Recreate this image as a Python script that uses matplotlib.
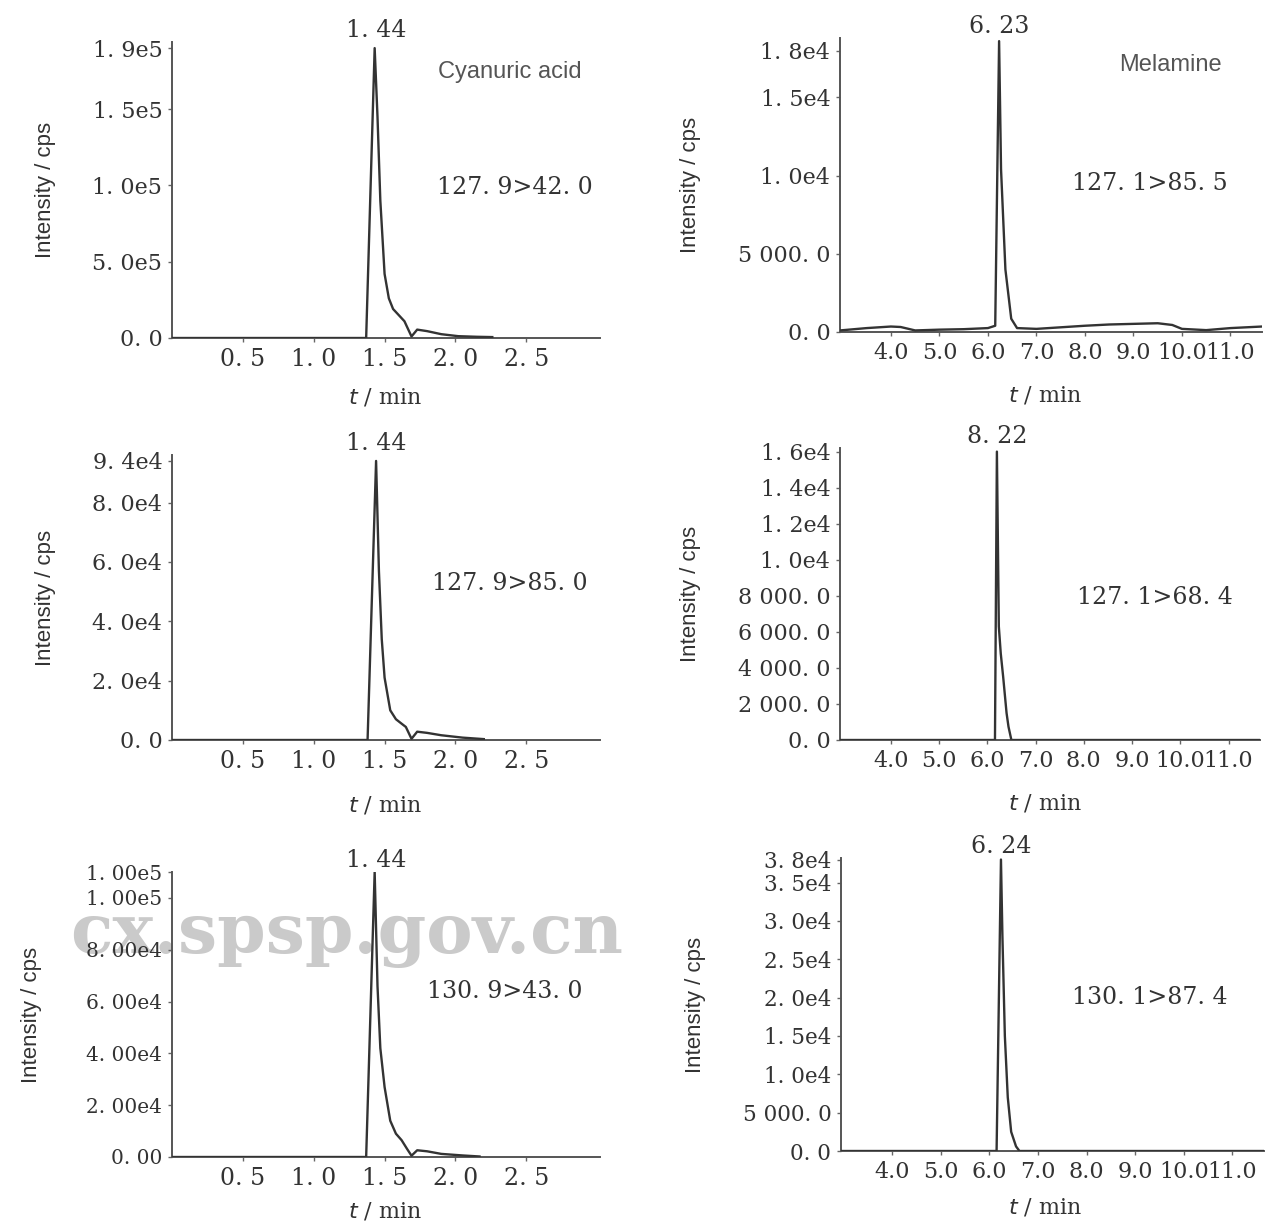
import matplotlib
matplotlib.use("Agg")
import matplotlib.pyplot as plt
import matplotlib.transforms as mtransforms

# ---- data ----
# left column: cyanuric acid, right column: melamine
ca1_t = [0.0, 1.37, 1.43, 1.45, 1.47, 1.50, 1.53, 1.56, 1.60, 1.64, 1.67, 1.69, 1.73, 1.80, 1.90, 2.02, 2.15, 2.26]
ca1_i = [0, 0, 1.9e5, 1.45e5, 9.0e4, 4.2e4, 2.6e4, 1.9e4, 1.5e4, 1.1e4, 5.0e3, 1.0e3, 5.5e3, 4.5e3, 2.5e3, 1.2e3, 800, 600]

ca2_t = [0.0, 1.38, 1.44, 1.46, 1.48, 1.50, 1.54, 1.58, 1.62, 1.65, 1.69, 1.73, 1.80, 1.90, 2.05, 2.20]
ca2_i = [0, 0, 9.4e4, 5.7e4, 3.4e4, 2.1e4, 1.0e4, 7.0e3, 5.5e3, 4.4e3, 400, 2.8e3, 2.4e3, 1.6e3, 800, 300]

ca3_t = [0.0, 1.37, 1.43, 1.45, 1.47, 1.50, 1.54, 1.58, 1.62, 1.66, 1.69, 1.73, 1.80, 1.90, 2.05, 2.17]
ca3_i = [0, 0, 1.1e5, 6.6e4, 4.2e4, 2.7e4, 1.4e4, 9.0e3, 6.5e3, 3.0e3, 500, 2.6e3, 2.2e3, 1.2e3, 600, 200]

mel1_t = [2.95, 3.5, 4.0, 4.2, 4.5, 5.0, 5.5, 6.0, 6.15, 6.23, 6.27, 6.36, 6.48, 6.60, 7.0, 7.5, 8.0, 8.5, 9.0, 9.5, 9.8, 10.0, 10.5, 11.0, 11.65]
mel1_i = [100, 250, 350, 320, 100, 150, 180, 250, 400, 1.86e4, 1.04e4, 4.0e3, 850, 250, 200, 300, 400, 480, 520, 560, 450, 200, 120, 250, 350]

mel2_t = [2.95, 6.16, 6.20, 6.24, 6.28, 6.33, 6.40, 6.44, 6.50, 11.65]
mel2_i = [0, 0, 1.6e4, 6.3e3, 4.8e3, 3.5e3, 1.5e3, 740, 0, 0]

mel3_t = [2.95, 6.15, 6.24, 6.27, 6.32, 6.38, 6.45, 6.55, 6.62, 11.65]
mel3_i = [0, 0, 3.8e4, 2.8e4, 1.5e4, 7.0e3, 2.5e3, 600, 0, 0]

left_ticks = [0.5, 1.0, 1.5, 2.0, 2.5]
left_ticklabels = ["0. 5", "1. 0", "1. 5", "2. 0", "2. 5"]
right_ticks = [4.0, 5.0, 6.0, 7.0, 8.0, 9.0, 10.0, 11.0]
right_ticklabels = ["4.0", "5.0", "6.0", "7.0", "8.0", "9.0", "10.0", "11.0"]

y1_ticks = [0, 5e4, 1e5, 1.5e5, 1.9e5]
y1_labels = ["0. 0", "5. 0e5", "1. 0e5", "1. 5e5", "1. 9e5"]
y2_ticks = [0, 2e4, 4e4, 6e4, 8e4, 9.4e4]
y2_labels = ["0. 0", "2. 0e4", "4. 0e4", "6. 0e4", "8. 0e4", "9. 4e4"]
y3_ticks = [0, 2e4, 4e4, 6e4, 8e4, 1e5, 1.1e5]
y3_labels = ["0. 00", "2. 00e4", "4. 00e4", "6. 00e4", "8. 00e4", "1. 00e5", "1. 00e5"]
y4_ticks = [0, 5000, 1e4, 1.5e4, 1.8e4]
y4_labels = ["0. 0", "5 000. 0", "1. 0e4", "1. 5e4", "1. 8e4"]
y5_ticks = [0, 2000, 4000, 6000, 8000, 1e4, 1.2e4, 1.4e4, 1.6e4]
y5_labels = ["0. 0", "2 000. 0", "4 000. 0", "6 000. 0", "8 000. 0", "1. 0e4", "1. 2e4", "1. 4e4", "1. 6e4"]
y6_ticks = [0, 5000, 1e4, 1.5e4, 2e4, 2.5e4, 3e4, 3.5e4, 3.8e4]
y6_labels = ["0. 0", "5 000. 0", "1. 0e4", "1. 5e4", "2. 0e4", "2. 5e4", "3. 0e4", "3. 5e4", "3. 8e4"]

peak_t = [1.44, 1.44, 1.44, 6.23, 6.20, 6.24]
peak_labels = ["1. 44", "1. 44", "1. 44", "6. 23", "8. 22", "6. 24"]
transitions = ["127. 9>42. 0", "127. 9>85. 0", "130. 9>43. 0",
               "127. 1>85. 5", "127. 1>68. 4", "130. 1>87. 4"]

W, H = 1287, 1232
fig = plt.figure(figsize=(W / 100, H / 100), dpi=100)
fig.patch.set_facecolor("white")

ink = "#333333"
serif = "DejaVu Serif"
sans = "Liberation Sans"


def px_axes(l, r, t, b):
    return fig.add_axes([l / W, 1 - b / H, (r - l) / W, (b - t) / H])


# watermark from the scanned source, kept underneath everything else
fig.text(70 / W, 1 - 935 / H, "cx.spsp.gov.cn", ha="left", va="center",
         fontsize=50, family=serif, fontweight="bold", color="#cacaca", zorder=-5)

panels = [
    # box in pixels, time, intensity, xlim, ylim top, yticks, ytick labels, ytick font size
    ((172, 600, 42, 338), ca1_t, ca1_i, (0, 3.02), 1.94e5, y1_ticks, y1_labels, 16),
    ((172, 600, 455, 740), ca2_t, ca2_i, (0, 3.02), 9.6e4, y2_ticks, y2_labels, 16),
    ((172, 600, 872, 1157), ca3_t, ca3_i, (0, 3.02), 1.1e5, y3_ticks, y3_labels, 14.5),
    ((840, 1262, 38, 332), mel1_t, mel1_i, (2.95, 11.65), 1.88e4, y4_ticks, y4_labels, 16),
    ((840, 1260, 448, 740), mel2_t, mel2_i, (2.95, 11.65), 1.62e4, y5_ticks, y5_labels, 16),
    ((841, 1264, 858, 1151), mel3_t, mel3_i, (2.95, 11.65), 3.82e4, y6_ticks, y6_labels, 15.5),
]

# text centres in pixel coordinates
trans_pos = [(515, 187), (510, 583), (505, 992), (1150, 183), (1155, 598), (1150, 998)]
xlabel_pos = [(385, 397), (385, 806), (385, 1212), (1045, 395), (1045, 803), (1045, 1207)]
ylabel_x = [45, 45, 32, 690, 690, 695]

for k, (box, t, inten, xlim, ytop, yt, yl, yfs) in enumerate(panels):
    ax = px_axes(*box)
    ax.plot(t, inten, color=ink, lw=1.7, zorder=3)
    ax.set_xlim(*xlim)
    ax.set_ylim(0, ytop)
    for s in ["top", "right"]:
        ax.spines[s].set_visible(False)
    for s in ["left", "bottom"]:
        ax.spines[s].set_color("#555555")
        ax.spines[s].set_linewidth(1.4)
    if k < 3:
        ax.set_xticks(left_ticks)
        ax.set_xticklabels(left_ticklabels, fontsize=17)
    else:
        ax.set_xticks(right_ticks)
        ax.set_xticklabels(right_ticklabels, fontsize=16)
    ax.set_yticks(yt)
    ax.set_yticklabels(yl, fontsize=yfs)
    for lab in ax.get_xticklabels() + ax.get_yticklabels():
        lab.set_family(serif)
        lab.set_color(ink)
    ax.tick_params(axis="both", direction="out", length=3, width=1, color="#666666", pad=4)
    ax.patch.set_alpha(0)

    # peak retention time label
    trans = mtransforms.blended_transform_factory(ax.transData, ax.transAxes)
    ax.text(peak_t[k], 1.0, peak_labels[k], transform=trans, ha="center", va="bottom",
            fontsize=17, family=serif, color=ink)

    tx, ty = trans_pos[k]
    fig.text(tx / W, 1 - ty / H, transitions[k], ha="center", va="center",
             fontsize=17, family=serif, color=ink)

    xx, xy = xlabel_pos[k]
    fig.text(xx / W, 1 - xy / H, r"$\it{t}$ / min", ha="center", va="center",
             fontsize=16, family=serif, color=ink)

    fig.text(ylabel_x[k] / W, 1 - (box[2] + box[3]) / 2 / H, "Intensity / cps",
             rotation=90, ha="center", va="center", fontsize=16, family=sans, color=ink)

fig.text(510 / W, 1 - 72 / H, "Cyanuric acid", ha="center", va="center",
         fontsize=17, family=sans, color="#555555")
fig.text(1170 / W, 1 - 65 / H, "Melamine", ha="center", va="center",
         fontsize=17, family=sans, color="#555555")

fig.savefig("out.png", dpi=100, facecolor="white")
